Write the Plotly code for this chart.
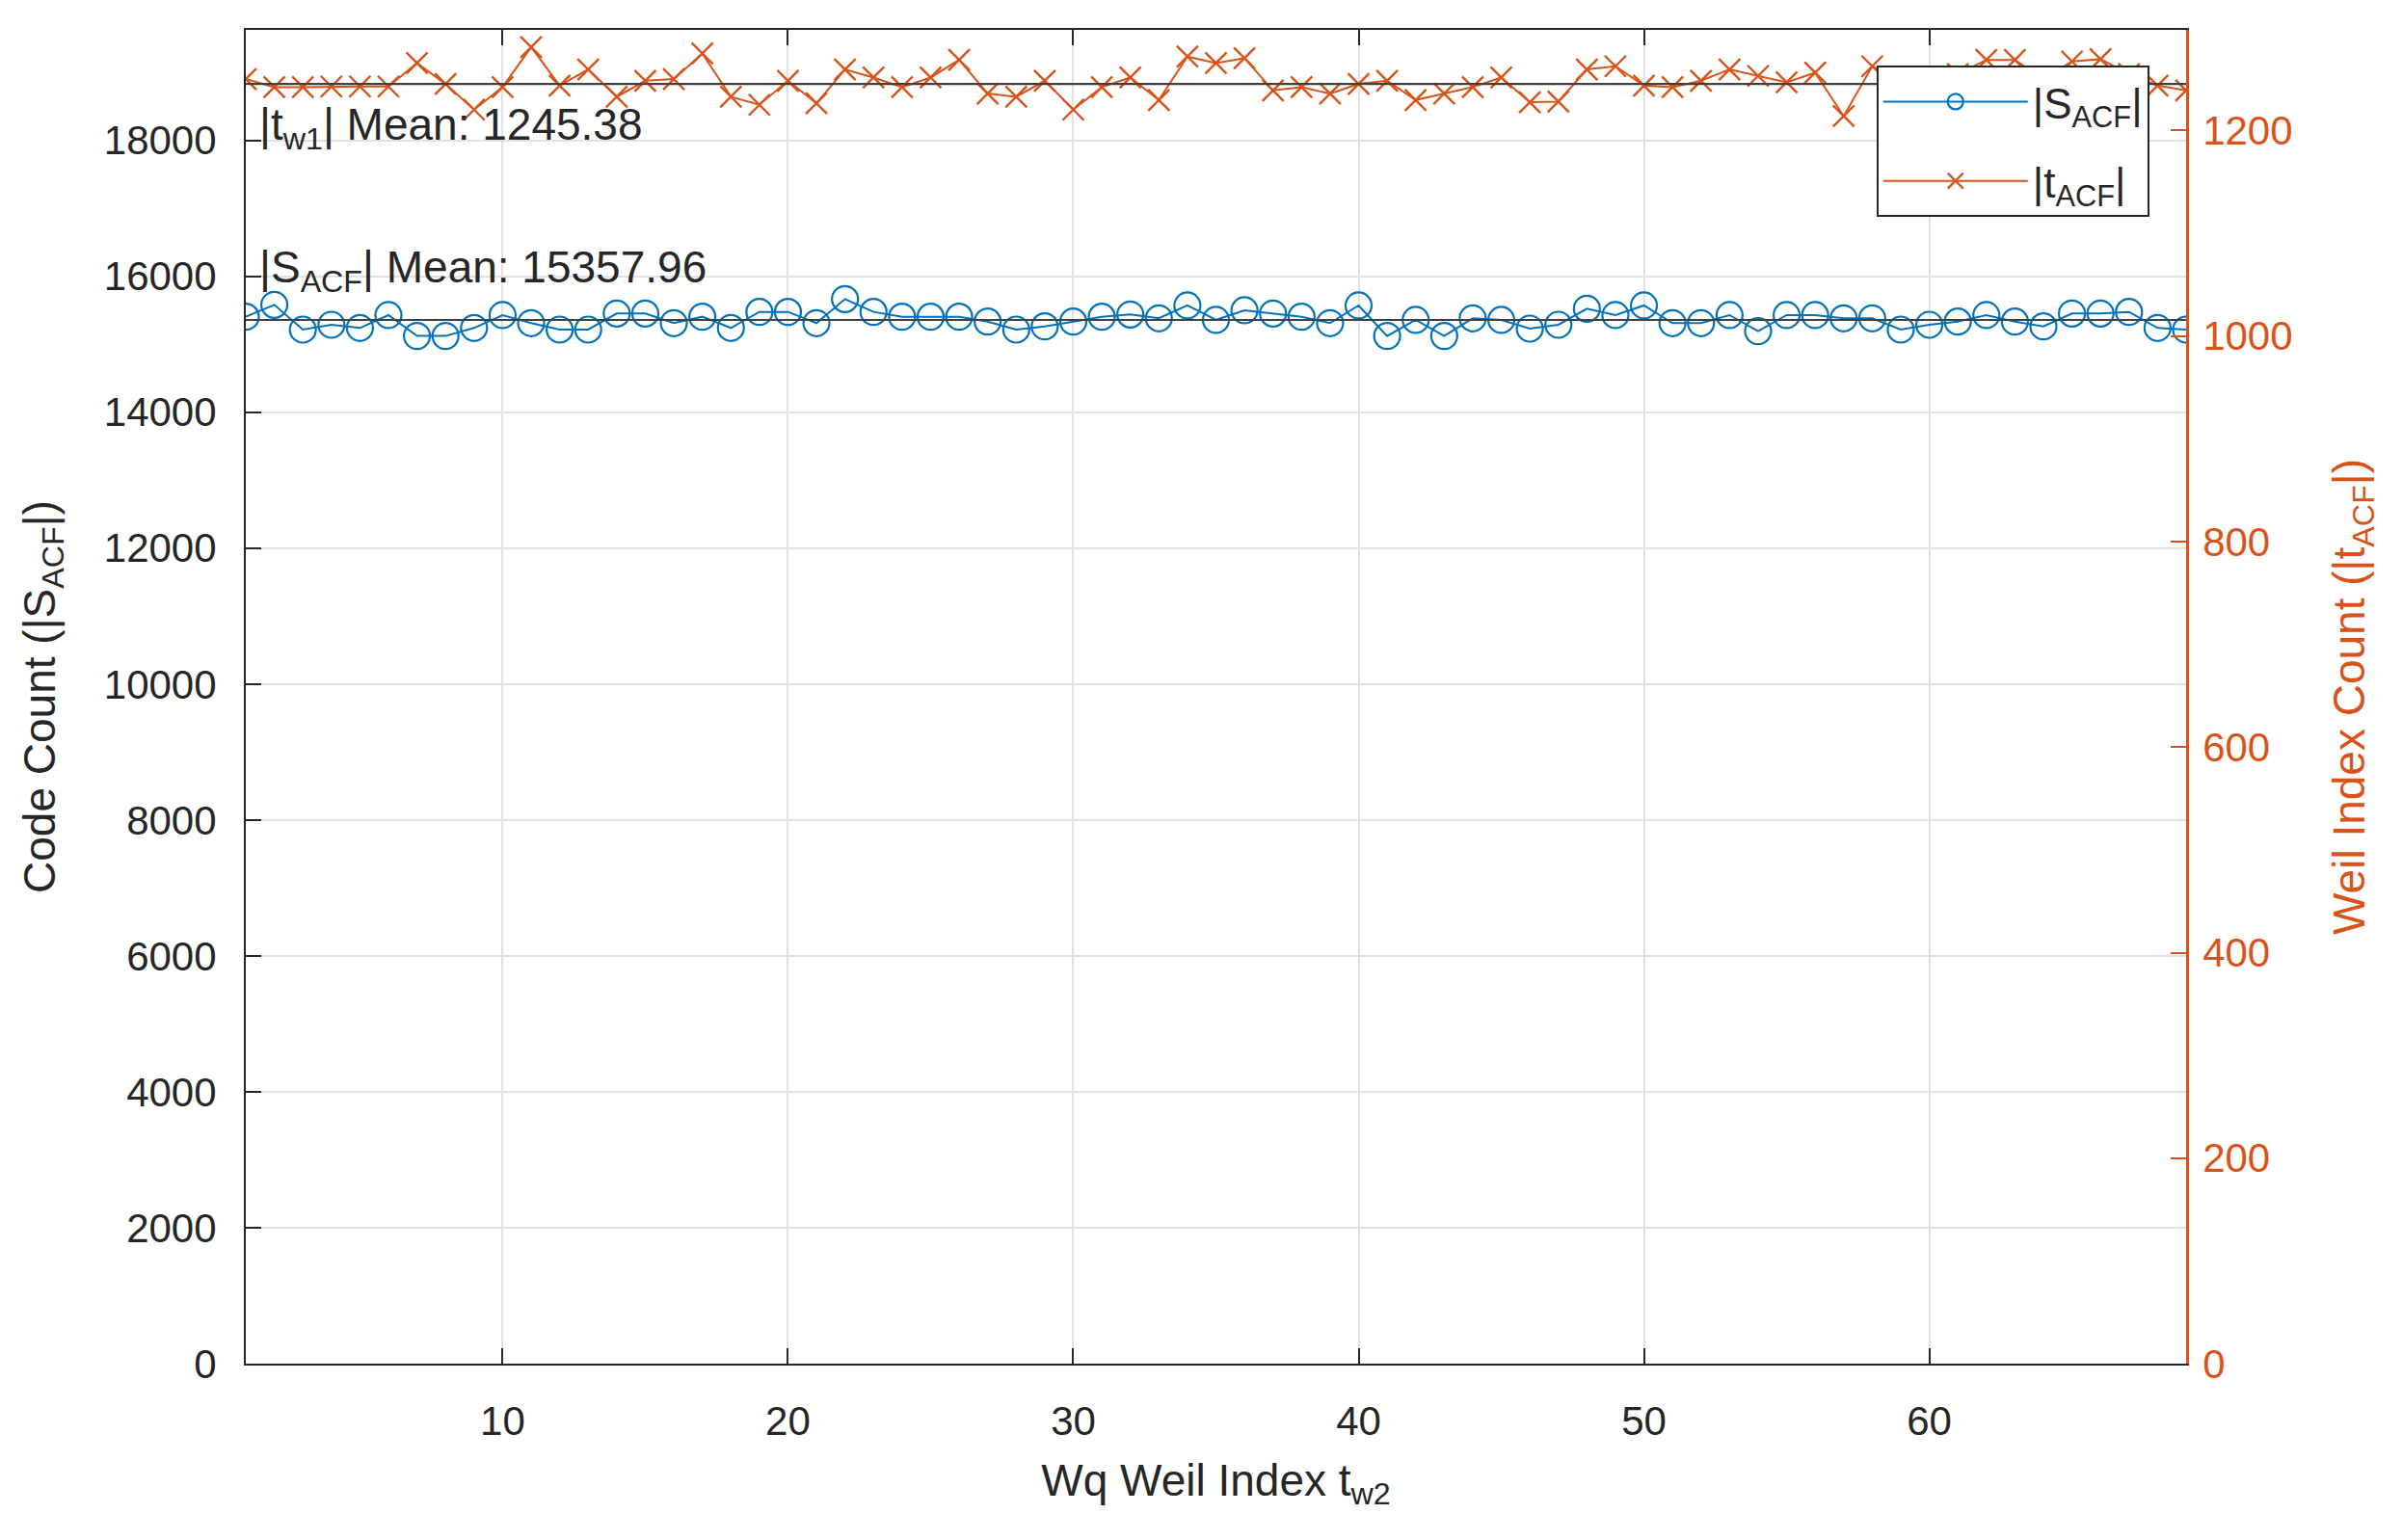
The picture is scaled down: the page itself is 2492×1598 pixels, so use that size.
import plotly.graph_objects as go

# ---- data ----
x_index = list(range(1, 70))

s_acf = [15405, 15580, 15216, 15287, 15240, 15429, 15122, 15122, 15240, 15429,
         15311, 15216, 15216, 15452, 15452, 15311, 15405, 15240, 15476, 15476,
         15311, 15665, 15476, 15405, 15405, 15405, 15334, 15216, 15263, 15334,
         15405, 15438, 15382, 15571, 15358, 15500, 15452, 15405, 15311, 15571,
         15122, 15358, 15122, 15382, 15358, 15230, 15287, 15523, 15429, 15571,
         15311, 15311, 15429, 15193, 15429, 15429, 15382, 15382, 15216, 15287,
         15334, 15429, 15334, 15263, 15452, 15452, 15476, 15240, 15216]

t_acf = [1250.1, 1242.3, 1242.3, 1242.9, 1242.9, 1242.9, 1265.7, 1245.4, 1220.4, 1242.3,
         1281.3, 1243.8, 1259.5, 1232.9, 1248.5, 1250.1, 1275.1, 1232.9, 1225.1, 1248.5,
         1226.6, 1259.5, 1251.6, 1242.3, 1251.6, 1268.8, 1236.0, 1232.9, 1248.5, 1220.4,
         1242.3, 1251.6, 1229.7, 1272.0, 1265.7, 1270.4, 1239.1, 1242.3, 1236.0, 1245.4,
         1248.5, 1229.7, 1236.0, 1242.3, 1251.6, 1227.6, 1228.2, 1259.5, 1262.6, 1243.8,
         1242.3, 1248.5, 1259.5, 1253.2, 1247.0, 1256.3, 1214.1, 1262.6, 1250.0, 1240.0,
         1255.0, 1268.8, 1268.8, 1250.0, 1267.3, 1269.5, 1255.0, 1243.8, 1239.1]

S_MEAN = 15357.96
T_MEAN = 1245.38

x_ticks = [10, 20, 30, 40, 50, 60]
left_ticks = list(range(0, 18001, 2000))
right_ticks = list(range(0, 1201, 200))

BLUE = "#0072BD"
ORANGE = "#D95319"
DARK = "#262626"
FONT = "Liberation Sans, Arial, Helvetica, sans-serif"

fig = go.Figure()

fig.add_trace(go.Scatter(
    x=x_index, y=s_acf, mode="lines+markers", name="|S<sub>ACF</sub>|",
    legendgroup="s",
    line=dict(color=BLUE, width=2),
    marker=dict(symbol="circle-open", size=27, color=BLUE, line=dict(width=2.2, color=BLUE)),
    yaxis="y"))

fig.add_trace(go.Scatter(
    x=[x_index[0], x_index[-1]], y=[S_MEAN, S_MEAN], mode="lines",
    line=dict(color="#404040", width=2.2), showlegend=False, hoverinfo="skip", yaxis="y"))

fig.add_trace(go.Scatter(
    x=x_index, y=t_acf, mode="lines+markers", name="|t<sub>ACF</sub>|",
    legendgroup="t",
    line=dict(color=ORANGE, width=2),
    marker=dict(symbol="x-thin-open", size=22, color=ORANGE, line=dict(width=2.4, color=ORANGE)),
    yaxis="y2"))

fig.add_trace(go.Scatter(
    x=[x_index[0], x_index[-1]], y=[T_MEAN, T_MEAN], mode="lines",
    line=dict(color="#404040", width=2.2), showlegend=False, hoverinfo="skip", yaxis="y2"))

fig.add_annotation(
    x=x_index[0], y=T_MEAN, xref="x", yref="y2",
    text="|t<sub>w1</sub>| Mean: %.2f" % T_MEAN,
    showarrow=False, xanchor="left", yanchor="top", xshift=12, yshift=-14,
    font=dict(family=FONT, size=46, color=DARK))

fig.add_annotation(
    x=x_index[0], y=S_MEAN, xref="x", yref="y",
    text="|S<sub>ACF</sub>| Mean: %.2f" % S_MEAN,
    showarrow=False, xanchor="left", yanchor="bottom", xshift=12, yshift=20,
    font=dict(family=FONT, size=46, color=DARK))

fig.update_layout(
    width=2492, height=1598,
    margin=dict(l=255, r=224, t=31, b=183),
    paper_bgcolor="white", plot_bgcolor="white",
    font=dict(family=FONT, size=42, color=DARK),
    showlegend=True,
    legend=dict(
        x=0.981, y=0.973, xanchor="right", yanchor="top",
        bgcolor="white", bordercolor="#262626", borderwidth=2,
        font=dict(family=FONT, size=44, color=DARK),
        itemwidth=150, tracegroupgap=22),
    xaxis=dict(
        range=[1, 69], tickvals=x_ticks, ticks="inside", ticklen=16, tickwidth=2,
        tickcolor=DARK, showline=True, linecolor=DARK, linewidth=2, mirror="ticks",
        showgrid=True, gridcolor="#e2e2e2", gridwidth=2, zeroline=False,
        tickfont=dict(family=FONT, size=42, color=DARK), ticklabelstandoff=22,
        title=dict(text="Wq Weil Index t<sub>w2</sub>", font=dict(family=FONT, size=46, color=DARK),
                   standoff=22)),
    yaxis=dict(
        range=[0, 19626], tickvals=left_ticks, tickformat="d", ticks="inside", ticklen=16, tickwidth=2,
        tickcolor=DARK, showline=True, linecolor=DARK, linewidth=2,
        showgrid=True, gridcolor="#e2e2e2", gridwidth=2, zeroline=False,
        tickfont=dict(family=FONT, size=42, color=DARK), ticklabelstandoff=20,
        title=dict(text="Code Count (|S<sub>ACF</sub>|)", font=dict(family=FONT, size=46, color=DARK),
                   standoff=36)),
    yaxis2=dict(
        range=[0, 1298], tickvals=right_ticks, tickformat="d", ticks="inside", ticklen=16, tickwidth=2,
        tickcolor=ORANGE, showline=True, linecolor=ORANGE, linewidth=2.5,
        overlaying="y", side="right", showgrid=False, zeroline=False,
        tickfont=dict(family=FONT, size=42, color=ORANGE), ticklabelstandoff=6,
        title=dict(text="Weil Index Count (|t<sub>ACF</sub>|)", font=dict(family=FONT, size=46, color=ORANGE),
                   standoff=44)),
)

fig.write_html("out.html")
